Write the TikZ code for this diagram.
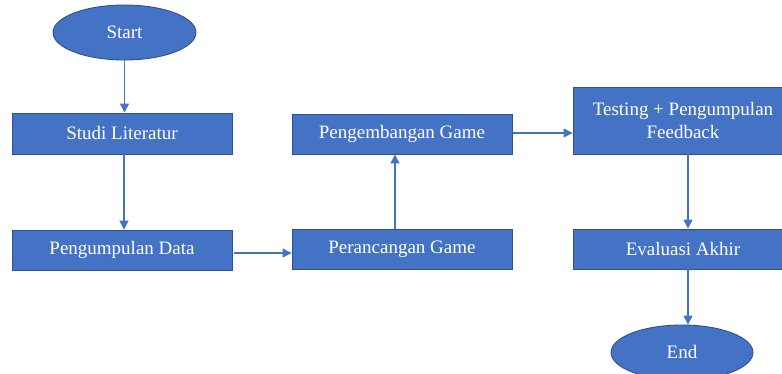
\documentclass[tikz,border=0pt]{standalone}
\usepackage{fontspec}
\setmainfont{Liberation Serif}
\usetikzlibrary{shapes.geometric,arrows.meta}
\definecolor{boxblue}{HTML}{4472C4}
\definecolor{edgeblue}{HTML}{2F528F}
\begin{document}
\begin{tikzpicture}[x=1pt,y=-1pt,
  procbox/.style={draw=edgeblue,fill=boxblue,line width=0.9pt,minimum width=220pt,inner sep=2pt,
    text=white,font=\fontsize{19}{22.5}\selectfont,align=center},
  termel/.style={ellipse,draw=edgeblue,fill=boxblue,line width=0.9pt,minimum width=143pt,minimum height=55pt,
    inner sep=0pt,text=white,font=\fontsize{19}{22.5}\selectfont},
  flow/.style={draw=boxblue,line width=1.3pt,-{Triangle[length=9pt,width=9pt]}}]
\begin{scope}
\clip (0,0) rectangle (782,374);
\fill[white] (0,0) rectangle (782,374);
\node[termel] (start) at (124.5,32.5) {Start};
\node[procbox,minimum height=41pt] (studi) at (122,133.5) {Studi Literatur};
\node[procbox,minimum height=40pt] (data) at (122,250) {Pengumpulan Data};
\node[procbox,minimum height=40pt] (rancang) at (402,249) {Perancangan Game};
\node[procbox,minimum height=40pt] (kembang) at (402,134) {Pengembangan Game};
\node[procbox,minimum height=67pt] (testing) at (683,120.5) {Testing + Pengumpulan\\Feedback};
\node[procbox,minimum height=40pt] (eval) at (683,249) {Evaluasi Akhir};
\node[termel,minimum width=142pt] (end) at (682,352.5) {End};
\draw[flow] (start.south) -- (start.south |- studi.north);
\draw[flow] ([xshift=2pt]studi.south) -- ([xshift=2pt]data.north);
\draw[flow] ([xshift=2pt,yshift=-3pt]data.east) -- ([yshift=-3pt]data.east -| rancang.west);
\draw[flow] ([xshift=-7pt]rancang.north) -- ([xshift=-7pt]kembang.south);
\draw[flow] ([xshift=1pt,yshift=1pt]kembang.east) -- ([yshift=1pt]kembang.east -| testing.west);
\draw[flow] ([xshift=5pt]testing.south) -- ([xshift=5pt]eval.north);
\draw[flow] ([xshift=5pt]eval.south) -- ([xshift=5pt]eval.south |- end.north);
\end{scope}
\useasboundingbox (0,0) rectangle (782,374);
\end{tikzpicture}
\end{document}
